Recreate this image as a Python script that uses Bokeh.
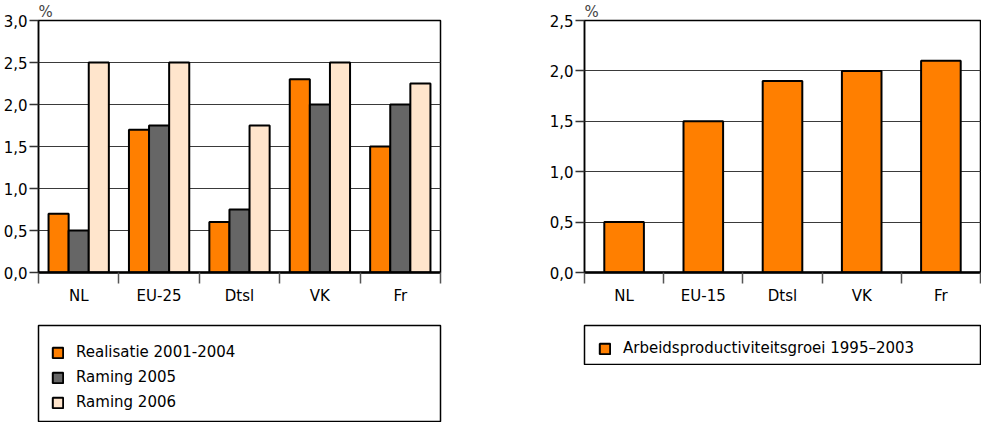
from bokeh.plotting import figure
from bokeh.layouts import row, column
from bokeh.models import ColumnDataSource, FixedTicker, Legend, LegendItem, Range1d
from bokeh.transform import dodge
from bokeh.embed import file_html
from bokeh.resources import INLINE

# ---- data ----
countries_left = ["NL", "EU-25", "Dtsl", "VK", "Fr"]
realisatie_2001_2004 = [0.7, 1.7, 0.6, 2.3, 1.5]
raming_2005 = [0.5, 1.75, 0.75, 2.0, 2.0]
raming_2006 = [2.5, 2.5, 1.75, 2.5, 2.25]
left_series_names = ["Realisatie 2001-2004", "Raming 2005", "Raming 2006"]

countries_right = ["NL", "EU-15", "Dtsl", "VK", "Fr"]
arbeidsproductiviteitsgroei = [0.5, 1.5, 1.9, 2.0, 2.1]
right_series_name = "Arbeidsproductiviteitsgroei 1995\u20132003"

left_yticks = [0.0, 0.5, 1.0, 1.5, 2.0, 2.5, 3.0]
left_ytick_labels = ["0,0", "0,5", "1,0", "1,5", "2,0", "2,5", "3,0"]
right_yticks = [0.0, 0.5, 1.0, 1.5, 2.0, 2.5]
right_ytick_labels = ["0,0", "0,5", "1,0", "1,5", "2,0", "2,5"]
unit_label = "%"

# ---- style ----
FONT = "DejaVu Sans"
FS = "15px"
ORANGE = "#FF7F00"
GREY = "#666666"
PEACH = "#FFE5CC"
TOP_H = 312
LEG_TOP = 13
LEG_BOTTOM = 1
B_LEFT = 38
L_WIDTH, L_BRIGHT = 546, 106
R_WIDTH, R_BRIGHT = 435, 1


def base_fig(width, b_right, cats, yticks, ylabels):
    n = len(cats)
    p = figure(width=width, height=TOP_H, x_range=Range1d(0, n),
               y_range=Range1d(yticks[0], yticks[-1]),
               output_backend="svg", toolbar_location=None,
               min_border_left=B_LEFT, min_border_right=b_right,
               min_border_top=0, min_border_bottom=40, title=unit_label)
    p.title.align = "left"
    p.title.text_font = FONT
    p.title.text_font_size = FS
    p.title.text_font_style = "normal"
    p.title.offset = 0
    p.title.standoff = 0
    p.outline_line_color = "black"
    p.outline_line_width = 1.5
    p.outline_line_alpha = 1

    p.xgrid.visible = False
    p.ygrid.ticker = FixedTicker(ticks=yticks)
    p.ygrid.grid_line_color = "#3a3a3a"
    p.ygrid.grid_line_width = 1

    ya = p.yaxis[0]
    ya.ticker = FixedTicker(ticks=yticks)
    ya.major_label_overrides = dict(zip(yticks, ylabels))
    ya.axis_line_color = "black"
    ya.axis_line_width = 1.5
    ya.major_tick_in = 0
    ya.major_tick_out = 9
    ya.major_tick_line_color = "#333333"
    ya.major_tick_line_width = 1.5
    ya.minor_tick_in = 0
    ya.minor_tick_out = 0
    ya.major_label_standoff = 2
    ya.major_label_text_font = FONT
    ya.major_label_text_font_size = FS
    ya.major_label_text_color = "black"

    centers = [i + 0.5 for i in range(n)]
    xa = p.xaxis[0]
    xa.ticker = FixedTicker(ticks=centers, minor_ticks=list(range(n + 1)))
    xa.major_label_overrides = dict(zip(centers, cats))
    xa.axis_line_color = "black"
    xa.axis_line_width = 2.5
    xa.major_tick_in = 0
    xa.major_tick_out = 11
    xa.major_tick_line_color = None
    xa.minor_tick_in = 0
    xa.minor_tick_out = 11
    xa.minor_tick_line_color = "#555555"
    xa.minor_tick_line_width = 1.5
    xa.major_label_standoff = 3
    xa.major_label_text_font = FONT
    xa.major_label_text_font_size = FS
    xa.major_label_text_color = "black"
    return p


def legend_fig(width, b_right, box_h):
    q = figure(width=width, height=LEG_TOP + box_h + LEG_BOTTOM,
               x_range=Range1d(0, 1), y_range=Range1d(0, 1),
               output_backend="svg", toolbar_location=None,
               x_axis_type=None, y_axis_type=None,
               min_border_left=B_LEFT, min_border_right=b_right,
               min_border_top=LEG_TOP, min_border_bottom=LEG_BOTTOM)
    q.grid.visible = False
    q.outline_line_color = "black"
    q.outline_line_width = 1.5
    q.outline_line_alpha = 1
    return q


def style_legend(lg, loc):
    lg.location = loc
    lg.border_line_color = None
    lg.background_fill_alpha = 0
    lg.padding = 4
    lg.spacing = 7
    lg.margin = 0
    lg.glyph_width = 13
    lg.glyph_height = 13
    lg.label_height = 18
    lg.label_standoff = 12
    lg.label_text_font = FONT
    lg.label_text_font_size = FS
    lg.label_text_color = "black"


# ---- left chart ----
n_left = len(countries_left)
src_left = ColumnDataSource(dict(
    x=[i + 0.5 for i in range(n_left)],
    r1=realisatie_2001_2004,
    r2=raming_2005,
    r3=raming_2006,
))
p1 = base_fig(L_WIDTH, L_BRIGHT, countries_left, left_yticks, left_ytick_labels)
l1 = legend_fig(L_WIDTH, L_BRIGHT, 96)
bar_w = 0.25
legend_renderers = []
for col, off, color in (("r1", -bar_w, ORANGE), ("r2", 0.0, GREY), ("r3", bar_w, PEACH)):
    p1.vbar(x=dodge("x", off, range=p1.x_range), top=col, width=bar_w, bottom=0,
            source=src_left, fill_color=color, line_color="black", line_width=2)
    lr = l1.vbar(x="x", top=col, width=bar_w, bottom=0, source=src_left,
                 fill_color=color, line_color="black", line_width=2, visible=False)
    legend_renderers.append(lr)
lg1 = Legend(items=[LegendItem(label=name, renderers=[r])
                    for name, r in zip(left_series_names, legend_renderers)])
style_legend(lg1, (13, 10))
l1.add_layout(lg1, "center")

# ---- right chart ----
n_right = len(countries_right)
src_right = ColumnDataSource(dict(
    x=[i + 0.5 for i in range(n_right)],
    v=arbeidsproductiviteitsgroei,
))
p2 = base_fig(R_WIDTH, R_BRIGHT, countries_right, right_yticks, right_ytick_labels)
l2 = legend_fig(R_WIDTH, R_BRIGHT, 39)
p2.vbar(x="x", top="v", width=0.5, bottom=0, source=src_right,
        fill_color=ORANGE, line_color="black", line_width=2)
lr2 = l2.vbar(x="x", top="v", width=0.5, bottom=0, source=src_right,
              fill_color=ORANGE, line_color="black", line_width=2, visible=False)
lg2 = Legend(items=[LegendItem(label=right_series_name, renderers=[lr2])])
style_legend(lg2, (14, 7))
l2.add_layout(lg2, "center")

layout = column(row(p1, p2), row(l1, l2))
open("out.html", "w").write(file_html(layout, INLINE))
